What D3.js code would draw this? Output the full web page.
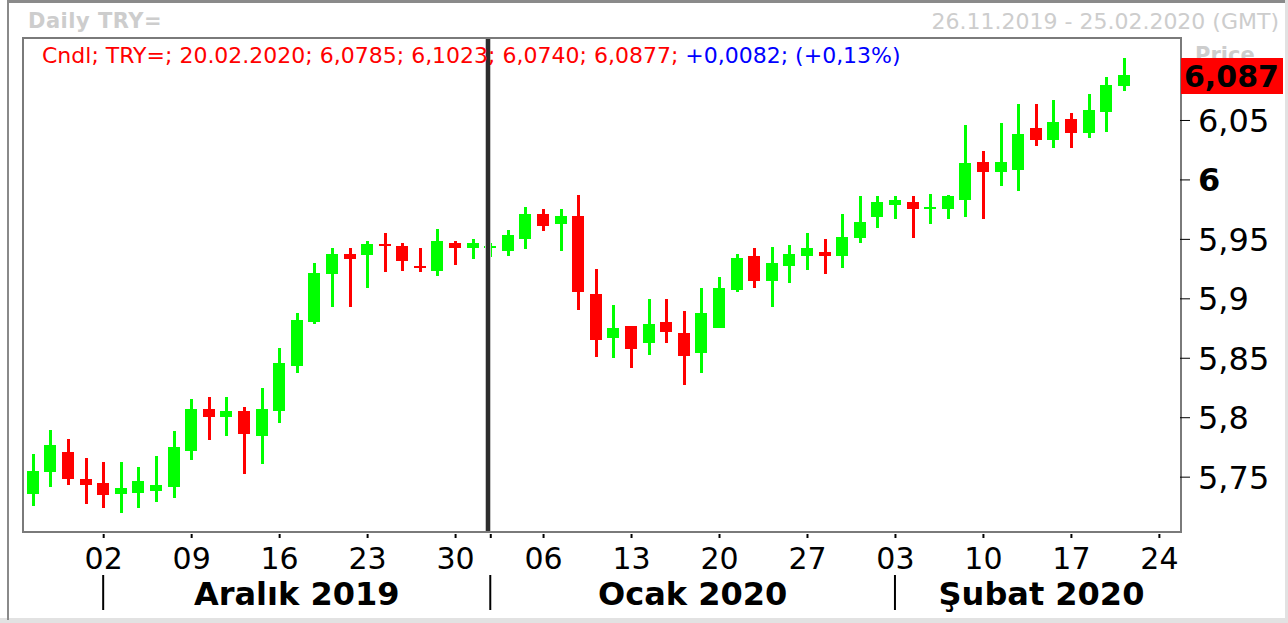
<!DOCTYPE html>
<html>
<head>
<meta charset="utf-8">
<script src="https://cdn.jsdelivr.net/npm/d3@7"></script>
<style>
	body { margin: 0; background: #fff; }
	svg { display: block; font-family: 'DejaVu Sans', Verdana, sans-serif; }
</style>
</head>
<body>
<div id="chart"></div>
<script>
// daily TRY= candles, 26.11.2019 .. 20.02.2020 (weekdays)
var dates = ['2019-11-26','2019-11-27','2019-11-28','2019-11-29',
	'2019-12-02','2019-12-03','2019-12-04','2019-12-05','2019-12-06',
	'2019-12-09','2019-12-10','2019-12-11','2019-12-12','2019-12-13',
	'2019-12-16','2019-12-17','2019-12-18','2019-12-19','2019-12-20',
	'2019-12-23','2019-12-24','2019-12-25','2019-12-26','2019-12-27',
	'2019-12-30','2019-12-31','2020-01-01','2020-01-02','2020-01-03',
	'2020-01-06','2020-01-07','2020-01-08','2020-01-09','2020-01-10',
	'2020-01-13','2020-01-14','2020-01-15','2020-01-16','2020-01-17',
	'2020-01-20','2020-01-21','2020-01-22','2020-01-23','2020-01-24',
	'2020-01-27','2020-01-28','2020-01-29','2020-01-30','2020-01-31',
	'2020-02-03','2020-02-04','2020-02-05','2020-02-06','2020-02-07',
	'2020-02-10','2020-02-11','2020-02-12','2020-02-13','2020-02-14',
	'2020-02-17','2020-02-18','2020-02-19','2020-02-20'];

var opens = [5.7355,5.7540,5.7707,5.7479,
	5.7445,5.7352,5.7363,5.7380,5.7414,
	5.7718,5.8069,5.8004,5.8052,5.7844,
	5.8055,5.8434,5.8797,5.9202,5.9376,
	5.9362,5.9454,5.9443,5.9275,5.9227,
	5.9469,5.9421,5.9421,5.9401,5.9503,
	5.9713,5.9629,5.9696,5.9039,5.8668,
	5.8769,5.8626,5.8803,5.8710,5.8541,
	5.8752,5.9067,5.9359,5.9148,5.9275,
	5.9359,5.9393,5.9359,5.9511,5.9688,
	5.9789,5.9806,5.9755,5.9755,5.9831,
	6.0143,6.0059,6.0076,6.0430,6.0329,
	6.0506,6.0388,6.0565,6.0785];

var highs = [5.7690,5.7892,5.7816,5.7656,
	5.7622,5.7622,5.7580,5.7673,5.7884,
	5.8153,5.8170,5.8170,5.8086,5.8246,
	5.8583,5.8879,5.9300,5.9427,5.9427,
	5.9486,5.9553,5.9469,5.9427,5.9587,
	5.9486,5.9503,5.9469,5.9578,5.9772,
	5.9755,5.9755,5.9865,5.9250,5.8946,
	5.8769,5.8997,5.8997,5.8895,5.9089,
	5.9182,5.9376,5.9427,5.9435,5.9452,
	5.9553,5.9503,5.9713,5.9857,5.9857,
	5.9857,5.9857,5.9874,5.9865,6.0455,
	6.0236,6.0472,6.0632,6.0632,6.0666,
	6.0557,6.0717,6.0860,6.1023];

var lows = [5.7254,5.7414,5.7431,5.7271,
	5.7237,5.7195,5.7237,5.7287,5.7323,
	5.7642,5.7810,5.7844,5.7524,5.7608,
	5.7954,5.8375,5.8786,5.8923,5.8923,
	5.9083,5.9218,5.9227,5.9218,5.9184,
	5.9277,5.9328,5.9345,5.9359,5.9418,
	5.9562,5.9401,5.8904,5.8508,5.8499,
	5.8415,5.8524,5.8626,5.8271,5.8373,
	5.8752,5.9056,5.9089,5.8929,5.9132,
	5.9241,5.9207,5.9258,5.9469,5.9595,
	5.9671,5.9511,5.9629,5.9671,5.9688,
	5.9671,5.9941,5.9899,6.0278,6.0261,
	6.0261,6.0346,6.0396,6.0740];

var closes = [5.7546,5.7766,5.7481,5.7431,
	5.7347,5.7403,5.7462,5.7428,5.7749,
	5.8069,5.8004,5.8052,5.7861,5.8069,
	5.8457,5.8820,5.9216,5.9376,5.9328,
	5.9460,5.9438,5.9311,5.9258,5.9486,
	5.9421,5.9469,5.9438,5.9536,5.9713,
	5.9612,5.9696,5.9056,5.8651,5.8752,
	5.8575,5.8786,5.8718,5.8516,5.8879,
	5.9089,5.9342,5.9148,5.9300,5.9376,
	5.9427,5.9359,5.9519,5.9646,5.9806,
	5.9823,5.9755,5.9772,5.9857,6.0135,
	6.0059,6.0143,6.0379,6.0329,6.0481,
	6.0388,6.0582,6.0795,6.0877];

var xTickDates = ['2019-12-02','2019-12-09','2019-12-16','2019-12-23','2019-12-30',
	'2020-01-01','2020-01-06','2020-01-13','2020-01-20','2020-01-27',
	'2020-02-03','2020-02-10','2020-02-17','2020-02-24'];
var xTickLabels = ['02','09','16','23','30','','06','13','20','27','03','10','17','24'];

var monthStarts = ['2019-12-02','2020-01-01','2020-02-03'];
var monthLabels = ['Aralık 2019','Ocak 2020','Şubat 2020'];

var yTicks = [5.75, 5.8, 5.85, 5.9, 5.95, 6, 6.05];

var W = 1288, H = 623;
var margin = {top: 39, left: 24},
	width = 1156,
	height = 492;

var parse = d3.timeParse('%Y-%m-%d');
var dayFmt = d3.timeFormat('%d.%m.%Y');
var tr = d3.formatLocale({decimal: ',', thousands: '.', grouping: [3], currency: ['', '']});
var f4 = tr.format('.4f'), fTick = tr.format('.2~f'), fSign = tr.format('+.4f'), fPct = tr.format('+.2f');

// position on the weekday axis (FX trades every weekday)
var start = parse(dates[0]);
var tradeIndex = function(s) {
	var d = parse(s), n = 0;
	d3.timeDay.range(start, d).forEach(function(t) {
		if (t.getDay() !== 0 && t.getDay() !== 6) n++;
	});
	return n;
};

var svg = d3.select('#chart').append('svg')
	.attr('width', W)
	.attr('height', H);

// outer frame
svg.append('rect').attr('x', 0).attr('y', 0).attr('width', W).attr('height', H).attr('fill', '#fff');
svg.append('rect').attr('x', 1285).attr('y', 0).attr('width', 3).attr('height', H).attr('fill', '#e2e2e2');
svg.append('rect').attr('x', 0).attr('y', 618).attr('width', W).attr('height', 5).attr('fill', '#e2e2e2');
svg.append('rect').attr('x', 7).attr('y', 0).attr('width', 2).attr('height', 620).attr('fill', '#8a8a8a');
svg.append('rect').attr('x', 7).attr('y', 0).attr('width', 1278).attr('height', 3).attr('fill', '#8a8a8a');

svg.append('text')
	.attr('x', 28).attr('y', 28)
	.style('font-size', '21px').style('font-weight', 'bold')
	.style('letter-spacing', '0.5px')
	.attr('fill', '#cdcdcd')
	.text('Daily TRY=');

svg.append('text')
	.attr('x', 1279).attr('y', 29)
	.attr('text-anchor', 'end')
	.style('font-size', '22px')
	.attr('fill', '#cdcdcd')
	.text('26.11.2019 - 25.02.2020 (GMT)');

var x = d3.scaleLinear()
	.domain([-0.5, 65.2])
	.range([0, width]);

var y = d3.scaleLinear()
	.domain([5.7043, 6.1181])
	.range([height, 0]);

var chart = svg.append('g')
	.attr('transform', 'translate(' + margin.left + ',' + margin.top + ')');

var clip = chart.append('clipPath').attr('id', 'clip')
	.append('rect').attr('width', width).attr('height', height);

var plot = chart.append('g').attr('clip-path', 'url(#clip)')
	.style('shape-rendering', 'crispEdges');

var colorOf = function(i) { return closes[i] >= opens[i] ? '#00ff00' : '#ff0000'; };

var candle = plot.selectAll('g.candle')
	.data(d3.range(dates.length))
	.enter()
	.append('g')
	.attr('class', 'candle');

candle.append('rect')
	.attr('x', function(i) { return Math.round(x(i)) - 1; })
	.attr('y', function(i) { return y(highs[i]); })
	.attr('width', 3)
	.attr('height', function(i) { return y(lows[i]) - y(highs[i]); })
	.attr('fill', colorOf);

candle.append('rect')
	.attr('x', function(i) { return Math.round(x(i)) - 6; })
	.attr('y', function(i) { return y(Math.max(opens[i], closes[i])); })
	.attr('width', 12)
	.attr('height', function(i) { return Math.max(2, Math.abs(y(opens[i]) - y(closes[i]))); })
	.attr('fill', colorOf);

// year change marker
var yearX = Math.round(x(tradeIndex('2020-01-01'))) - 4;
plot.append('rect').attr('x', yearX - 1).attr('y', 0).attr('width', 6).attr('height', height).attr('fill', '#c4c4c4');
plot.append('rect').attr('x', yearX).attr('y', 0).attr('width', 4).attr('height', height).attr('fill', '#2d2d2d');

// plot border
chart.append('rect')
	.attr('x', -1).attr('y', -1)
	.attr('width', width + 2).attr('height', height + 2)
	.attr('fill', 'none')
	.attr('stroke', '#7a7a7a')
	.attr('stroke-width', 2);

// header line
var last = dates.length - 1;
var chg = closes[last] - closes[last - 1];
var head = chart.append('text')
	.attr('x', 18).attr('y', 24)
	.style('font-size', '22px');
head.append('tspan')
	.attr('fill', '#ff0000')
	.text('Cndl; TRY=; ' + dayFmt(parse(dates[last])) + '; ' + f4(opens[last]) + '; ' + f4(highs[last]) + '; ' +
		f4(lows[last]) + '; ' + f4(closes[last]) + '; ');
head.append('tspan')
	.attr('fill', '#0000ff')
	.text(fSign(chg) + '; (' + fPct(chg / closes[last - 1] * 100) + '%)');

// x axis
var xAxis = d3.axisBottom(x)
	.tickValues(xTickDates.map(tradeIndex))
	.tickSizeInner(4)
	.tickSizeOuter(0)
	.tickPadding(10)
	.tickFormat(function(d, i) { return xTickLabels[i]; });

var gx = chart.append('g')
	.attr('transform', 'translate(0,' + (height + 3) + ')')
	.call(xAxis);
gx.select('.domain').remove();
gx.selectAll('line').attr('stroke', '#000').attr('stroke-width', 2);
gx.selectAll('text').style('font-size', '30px').style('font-family', "'DejaVu Sans', Verdana, sans-serif").attr('fill', '#000');

// month row
var mx = monthStarts.map(function(s) { return x(tradeIndex(s)); });
var ends = mx.slice(1).concat([width + 8]);
chart.selectAll('line.month')
	.data(mx)
	.enter()
	.append('line')
	.attr('class', 'month')
	.attr('x1', function(d) { return d; })
	.attr('x2', function(d) { return d; })
	.attr('y1', 536)
	.attr('y2', 571)
	.attr('stroke', '#000')
	.attr('stroke-width', 2);

chart.selectAll('text.month')
	.data(monthLabels)
	.enter()
	.append('text')
	.attr('class', 'month')
	.attr('x', function(d, i) { return (mx[i] + ends[i]) / 2; })
	.attr('y', 566)
	.attr('text-anchor', 'middle')
	.style('font-size', '32px')
	.style('font-weight', 'bold')
	.text(function(d) { return d; });

// y axis
var yAxis = d3.axisRight(y)
	.tickValues(yTicks)
	.tickSizeInner(10)
	.tickSizeOuter(0)
	.tickPadding(8)
	.tickFormat(fTick);

var gy = chart.append('g')
	.attr('transform', 'translate(' + width + ',0)')
	.call(yAxis);
gy.select('.domain').remove();
gy.selectAll('line').attr('stroke', '#000');
gy.selectAll('text')
	.style('font-size', '32px')
	.style('font-family', "'DejaVu Sans', Verdana, sans-serif")
	.attr('fill', '#000')
	.attr('dy', '0.36em')
	.style('font-weight', function(d) { return d === 6 ? 'bold' : 'normal'; });

// last price tag
svg.append('text')
	.attr('x', 1195).attr('y', 62)
	.style('font-size', '21px').style('font-weight', 'bold')
	.attr('fill', '#cdcdcd')
	.text('Price');

var tagY = margin.top + y(closes[last]);
svg.append('rect')
	.attr('x', 1181).attr('y', Math.round(tagY) - 17)
	.attr('width', 102).attr('height', 36)
	.attr('fill', '#ff0000');

svg.append('text')
	.attr('x', 1184).attr('y', Math.round(tagY) + 12)
	.style('font-size', '30px').style('font-weight', 'bold')
	.attr('fill', '#000')
	.text(tr.format('.3f')(Math.floor(closes[last] * 1000) / 1000));
</script>
</body>
</html>
